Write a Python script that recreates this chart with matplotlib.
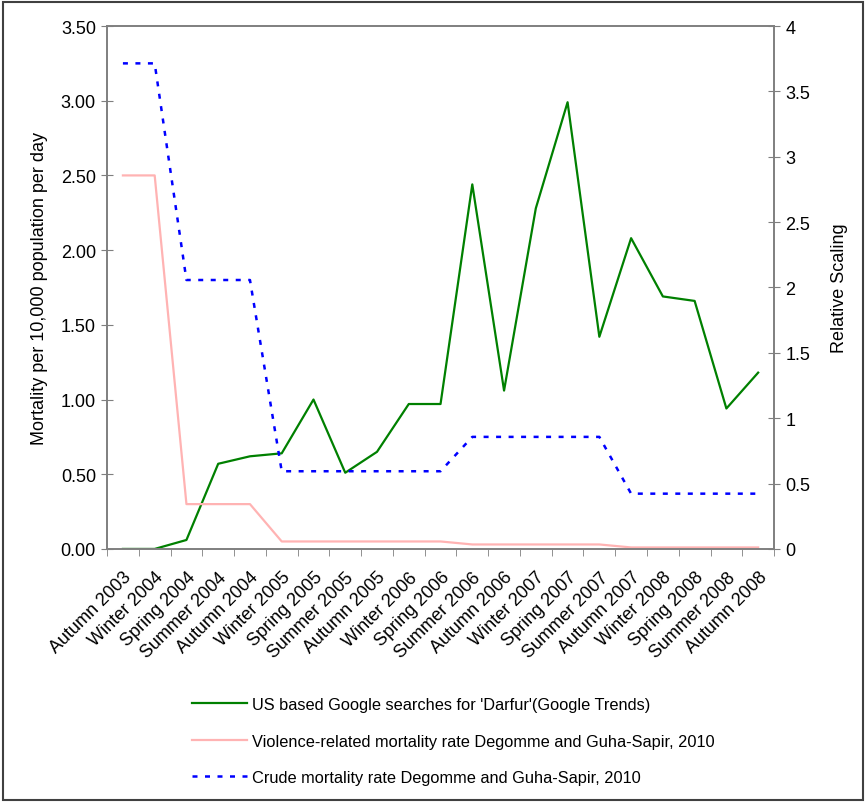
import numpy as np
import matplotlib.pyplot as plt
from matplotlib.patches import Rectangle
from matplotlib.lines import Line2D

plt.rcParams["font.family"] = ["Liberation Sans", "DejaVu Sans"]

seasons = ["Autumn 2003", "Winter 2004", "Spring 2004", "Summer 2004", "Autumn 2004",
           "Winter 2005", "Spring 2005", "Summer 2005", "Autumn 2005", "Winter 2006",
           "Spring 2006", "Summer 2006", "Autumn 2006", "Winter 2007", "Spring 2007",
           "Summer 2007", "Autumn 2007", "Winter 2008", "Spring 2008", "Summer 2008",
           "Autumn 2008"]

google = [0.00, 0.00, 0.06, 0.57, 0.62, 0.64, 1.00, 0.51, 0.65, 0.97, 0.97,
          2.44, 1.06, 2.28, 2.99, 1.42, 2.08, 1.69, 1.66, 0.94, 1.18]
violence = [2.50, 2.50, 0.30, 0.30, 0.30, 0.05, 0.05, 0.05, 0.05, 0.05, 0.05,
            0.03, 0.03, 0.03, 0.03, 0.03, 0.01, 0.01, 0.01, 0.01, 0.01]
crude = [3.25, 3.25, 1.80, 1.80, 1.80, 0.52, 0.52, 0.52, 0.52, 0.52, 0.52,
         0.75, 0.75, 0.75, 0.75, 0.75, 0.37, 0.37, 0.37, 0.37, 0.37]

left_ticks = [0, 0.5, 1.0, 1.5, 2.0, 2.5, 3.0, 3.5]
right_ticks = [0, 0.5, 1, 1.5, 2, 2.5, 3, 3.5, 4]

x = np.arange(len(seasons))
spine_col = "#7f7f7f"

fig = plt.figure(figsize=(8.66, 8.04), dpi=100)
ax = fig.add_axes([0.1236, 0.316, 0.7702, 0.6504])

ax.plot(x, google, color="#008000", lw=1.6)
ax.plot(x, violence, color="#ffb3b3", lw=1.6)
ax.plot(x, crude, color="#0000ff", lw=1.8, linestyle=(0, (2, 3)))

ax.set_xlim(-0.5, len(seasons) - 0.5)
ax.set_ylim(0, 3.5)
ax.set_yticks(left_ticks)
ax.set_yticklabels([f"{v:.2f}" for v in left_ticks], fontsize=13)
ax.set_ylabel("Mortality per 10,000 population per day", fontsize=13, labelpad=9)

ax.set_xticks(x)
ax.set_xticklabels(seasons, rotation=45, ha="right", rotation_mode="anchor", fontsize=13)
ax.set_xticks(np.arange(-0.5, len(seasons)), minor=True)
ax.tick_params(axis="x", which="major", length=0, pad=14)
ax.tick_params(axis="x", which="minor", length=5, color=spine_col, direction="out")
ax.tick_params(axis="y", length=8, direction="inout", color=spine_col, pad=4)

ax2 = ax.twinx()
ax2.set_ylim(0, 4)
ax2.set_yticks(right_ticks)
ax2.set_yticklabels([f"{v:g}" for v in right_ticks], fontsize=13)
ax2.tick_params(axis="y", length=8, direction="inout", color=spine_col, pad=4)
ax2.set_ylabel("Relative Scaling", fontsize=13, labelpad=15)

for a in (ax, ax2):
    for s in a.spines.values():
        s.set_color(spine_col)
        s.set_linewidth(1.2)

handles = [
    Line2D([], [], color="#008000", lw=1.6),
    Line2D([], [], color="#ffb3b3", lw=1.6),
    Line2D([], [], color="#0000ff", lw=1.8, linestyle=(0, (2, 3))),
]
labels = ["US based Google searches for 'Darfur'(Google Trends)",
          "Violence-related mortality rate Degomme and Guha-Sapir, 2010",
          "Crude mortality rate Degomme and Guha-Sapir, 2010"]
fig.legend(handles, labels, loc="upper left", bbox_to_anchor=(0.2217, 0.132),
           frameon=False, fontsize=11.8, handlelength=3.35, handletextpad=0.3,
           labelspacing=1.32, borderpad=0, borderaxespad=0)

fig.patches.append(Rectangle((0.003, 0.004), 0.994, 0.992, transform=fig.transFigure,
                             fill=False, edgecolor="#404040", lw=1.5))

plt.savefig("out.png", dpi=100)
